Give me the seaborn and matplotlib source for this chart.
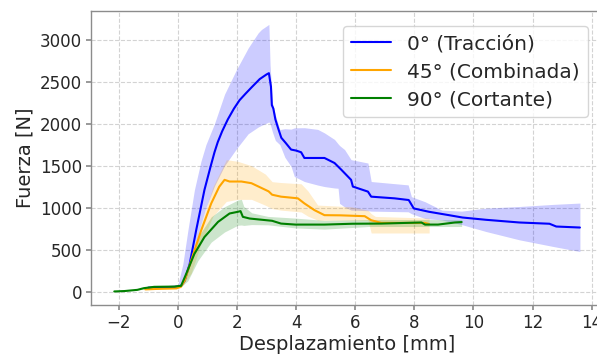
import numpy as np
import pandas as pd
import matplotlib
matplotlib.use("Agg")
import matplotlib.pyplot as plt
import seaborn as sns

# ---------------- data ----------------
labels = ["0° (Tracción)", "45° (Combinada)", "90° (Cortante)"]
colors = ["blue", "orange", "green"]

# 0° (Tracción) - mean
x0 = [-1.0, -0.5, -0.1, 0.0, 0.11, 0.23, 0.4, 0.62, 0.9, 1.1, 1.24, 1.35, 1.5, 1.69, 1.9,
      2.09, 2.3, 2.49, 2.77, 3.0, 3.08, 3.15, 3.18, 3.23, 3.3, 3.39, 3.5, 3.65, 3.83, 4.0,
      4.17, 4.28, 4.96, 5.3, 5.53, 5.86, 5.92, 6.43, 6.54, 7.33, 7.81, 7.98, 8.5, 9.17, 9.63,
      10.42, 11.55, 12.57, 12.8, 13.6]
y0 = [50, 55, 60, 65, 72, 132, 332, 732, 1212, 1480, 1660, 1780, 1910, 2050, 2180,
      2280, 2360, 2430, 2530, 2585, 2600, 2440, 2220, 2180, 2050, 1948, 1832, 1770, 1692, 1680,
      1660, 1592, 1592, 1532, 1452, 1332, 1252, 1192, 1132, 1112, 1092, 992, 952, 912, 884,
      857, 825, 810, 777, 765]
# 0° band
bx0 = [-1.0, -0.1, 0.0, 0.17, 0.34, 0.56, 0.78, 0.95, 1.24, 1.58, 1.98, 2.38, 2.72, 2.83,
       3.08, 3.12, 3.2, 3.3, 3.45, 3.62, 3.83, 3.94, 4.28, 4.73, 4.96, 5.3, 5.42, 5.47, 5.64,
       5.86, 6.43, 6.54, 7.79, 7.9, 8.36, 8.93, 9.6, 10.42, 11.55, 12.69, 13.6]
hi0 = [55, 65, 80, 332, 732, 1212, 1550, 1750, 2000, 2350, 2640, 2900, 3080, 3120,
       3180, 2700, 2250, 2100, 1930, 1940, 1935, 1950, 1952, 1932, 1890, 1812, 1760, 1740, 1692,
       1572, 1532, 1312, 1272, 1132, 1072, 972, 960, 996, 1015, 1040, 1056]
lo0 = [45, 55, 50, 120, 250, 520, 800, 1000, 1260, 1500, 1700, 1880, 1960, 1980,
       2020, 2000, 1900, 1800, 1750, 1600, 1492, 1372, 1312, 1270, 1252, 1235, 1232, 1052, 1010,
       972, 965, 960, 952, 930, 872, 855, 800, 718, 619, 540, 480]

# 45° (Combinada) - mean
x45 = [-1.1, -0.5, -0.05, 0.1, 0.23, 0.45, 0.79, 1.13, 1.4, 1.58, 1.75, 2.15, 2.49, 3.07,
       3.19, 3.49, 3.98, 4.06, 4.28, 4.62, 4.96, 5.5, 6.32, 6.54, 6.88, 8.36, 8.5]
y45 = [30, 38, 42, 60, 132, 372, 732, 1052, 1250, 1332, 1312, 1312, 1292, 1195,
       1155, 1132, 1115, 1112, 1052, 972, 912, 910, 900, 852, 820, 820, 805]
# 45° band
bx45 = [-1.1, -0.05, 0.1, 0.45, 0.79, 1.19, 1.64, 2.03, 2.49, 2.96, 3.19, 3.49, 4.17, 4.4,
        4.73, 5.86, 6.43, 6.54, 6.68, 8.5]
hi45 = [35, 45, 80, 412, 812, 1252, 1572, 1552, 1500, 1400, 1310, 1300, 1285, 1200,
        1032, 1012, 972, 930, 897, 877]
lo45 = [25, 35, 50, 220, 580, 900, 1075, 1100, 1100, 1030, 990, 972, 950, 900,
        852, 852, 852, 700, 700, 700]

# 90° (Cortante) - mean
x90 = [-2.15, -1.8, -1.37, -1.15, -0.8, -0.12, 0.0, 0.11, 0.28, 0.56, 0.9, 1.36, 1.75, 2.03,
       2.12, 2.2, 2.43, 3.19, 3.49, 3.98, 4.96, 5.9, 6.88, 8.24, 8.36, 8.8, 9.37, 9.6]
y90 = [5, 10, 24, 44, 60, 63, 68, 72, 212, 452, 652, 832, 932, 952,
       960, 892, 872, 845, 812, 800, 800, 810, 812, 825, 800, 800, 825, 830]
# 90° band
bx90 = [-2.15, -0.12, 0.0, 0.11, 0.34, 0.68, 1.13, 1.58, 2.03, 2.15, 2.23, 2.5, 3.05, 3.98,
        4.96, 6.45, 8.3, 9.6]
hi90 = [8, 66, 72, 85, 270, 652, 892, 1012, 1092, 1100, 1016, 940, 897, 877,
        850, 860, 860, 857]
lo90 = [3, 58, 62, 60, 132, 372, 592, 712, 792, 795, 790, 800, 797, 760,
        746, 777, 777, 777]

xlabel = "Desplazamiento [mm]"
ylabel = "Fuerza [N]"

# ---------------- style ----------------
sns.set_theme(style="whitegrid", rc={
    "grid.linestyle": "--",
    "grid.color": "#d3d3d3",
    "grid.linewidth": 0.8,
    "axes.edgecolor": "#8c8c8c",
    "axes.linewidth": 1.0,
    "xtick.bottom": True,
    "ytick.left": True,
    "xtick.color": "#8c8c8c",
    "ytick.color": "#8c8c8c",
    "xtick.labelcolor": "#262626",
    "ytick.labelcolor": "#262626",
    "xtick.major.size": 3.5,
    "ytick.major.size": 3.5,
    "xtick.major.pad": 3.0,
    "ytick.major.pad": 3.0,
})
plt.rcParams["font.family"] = ["DejaVu Sans"]

fig = plt.figure(figsize=(5.97, 3.56), dpi=100)
ax = fig.add_axes([0.1524, 0.1433, 0.858, 0.8257])

series = [
    (x0, y0, bx0, lo0, hi0),
    (x45, y45, bx45, lo45, hi45),
    (x90, y90, bx90, lo90, hi90),
]

for (mx, my, bx, lo, hi), lab, col in zip(series, labels, colors):
    ax.fill_between(bx, lo, hi, color=col, alpha=0.2, linewidth=0)

for (mx, my, bx, lo, hi), lab, col in zip(series, labels, colors):
    df = pd.DataFrame({"x": mx, "y": my})
    sns.lineplot(data=df, x="x", y="y", color=col, label=lab, ax=ax,
                 estimator=None, sort=False, linewidth=1.5)

ax.set_xlabel(xlabel, fontsize=14, color="#262626", labelpad=2)
ax.set_ylabel(ylabel, fontsize=14, color="#262626", labelpad=4)
ax.set_xticks([-2, 0, 2, 4, 6, 8, 10, 12, 14])
ax.set_yticks([0, 500, 1000, 1500, 2000, 2500, 3000])
ax.tick_params(labelsize=12)
ax.margins(x=0.05, y=0.05)

leg = ax.legend(loc="upper right", fontsize=14.5, frameon=True, fancybox=True,
                framealpha=0.8, edgecolor="#cccccc", labelspacing=0.45,
                borderaxespad=0.75)

fig.savefig("out.png", dpi=100)
